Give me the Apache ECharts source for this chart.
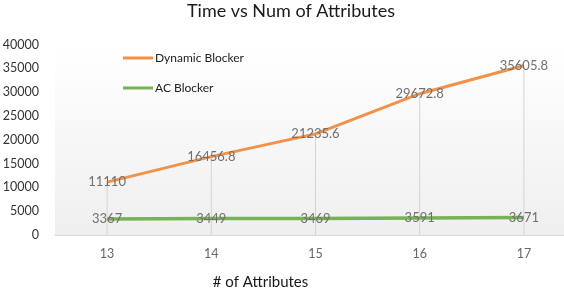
<!DOCTYPE html>
<html><head><meta charset="utf-8">
<script src="https://cdn.jsdelivr.net/npm/echarts@6/dist/echarts.min.js"></script>
<style>html,body{margin:0;padding:0;background:#fff}#c{width:564px;height:290px}</style>
</head><body><div id="c"></div>
<script>
const categories = ['13', '14', '15', '16', '17'];
const dynamicBlocker = [11110, 16456.8, 21235.6, 29672.8, 35605.8];
const acBlocker = [3367, 3449, 3469, 3591, 3671];
const yTicks = [0, 5000, 10000, 15000, 20000, 25000, 30000, 35000, 40000];

const chart = echarts.init(document.getElementById('c'));
const font = 'Lato, "Open Sans", sans-serif';
chart.setOption({
  animation: false,
  title: {
    text: 'Time vs Num of Attributes', left: 286, top: -3, textAlign: 'center',
    textStyle: {fontFamily: font, fontSize: 18, fontWeight: 'normal', color: '#1a1a1a'}
  },
  legend: {
    orient: 'vertical', left: 118, top: 47, itemGap: 18, itemWidth: 30, itemHeight: 3,
    data: [{name: 'Dynamic Blocker', icon: 'rect'}, {name: 'AC Blocker', icon: 'rect'}],
    textStyle: {fontFamily: font, fontSize: 12, color: '#222', padding: [0, 0, 0, -3]}
  },
  grid: {
    left: 55, width: 521, top: 44.5, bottom: 55, show: true, borderWidth: 0,
    outerBoundsMode: 'none', containLabel: false,
    backgroundColor: {type: 'linear', x: 0, y: 0, x2: 0, y2: 1,
      colorStops: [{offset: 0, color: '#ffffff'}, {offset: 1, color: '#efefef'}]}
  },
  xAxis: {
    type: 'category', data: categories, boundaryGap: true,
    name: '# of Attributes', nameLocation: 'middle', nameGap: 40,
    nameTextStyle: {fontFamily: font, fontSize: 15, color: '#1a1a1a', padding: [0, 0, 0, -110]},
    axisLine: {lineStyle: {color: '#d9d9d9', width: 1}},
    axisTick: {show: false},
    axisLabel: {fontFamily: font, fontSize: 12.5, color: '#666', margin: 12}
  },
  yAxis: {
    type: 'value', min: 0, max: 40000, interval: 5000,
    axisLine: {show: false}, axisTick: {show: false}, splitLine: {show: false},
    axisLabel: {fontFamily: font, fontSize: 12.5, color: '#333', margin: 16,
      formatter: v => yTicks.includes(v) ? String(v) : ''}
  },
  series: [
    {
      name: 'drop', type: 'bar', data: dynamicBlocker, barWidth: 1, silent: true,
      itemStyle: {color: '#d4d4d4'}, z: 1, legendHoverLink: false
    },
    {
      name: 'Dynamic Blocker', type: 'line', data: dynamicBlocker, symbol: 'circle', symbolSize: 0.01, showSymbol: true,
      lineStyle: {color: '#F0924A', width: 3}, itemStyle: {color: '#F0924A'}, z: 3,
      label: {show: true, position: 'inside', fontFamily: font, fontSize: 13, color: '#707070'}
    },
    {
      name: 'AC Blocker', type: 'line', data: acBlocker, symbol: 'circle', symbolSize: 0.01, showSymbol: true,
      lineStyle: {color: '#77B255', width: 3.5}, itemStyle: {color: '#77B255'}, z: 3,
      label: {show: true, position: 'inside', fontFamily: font, fontSize: 13, color: '#707070'}
    }
  ]
});
</script></body></html>
